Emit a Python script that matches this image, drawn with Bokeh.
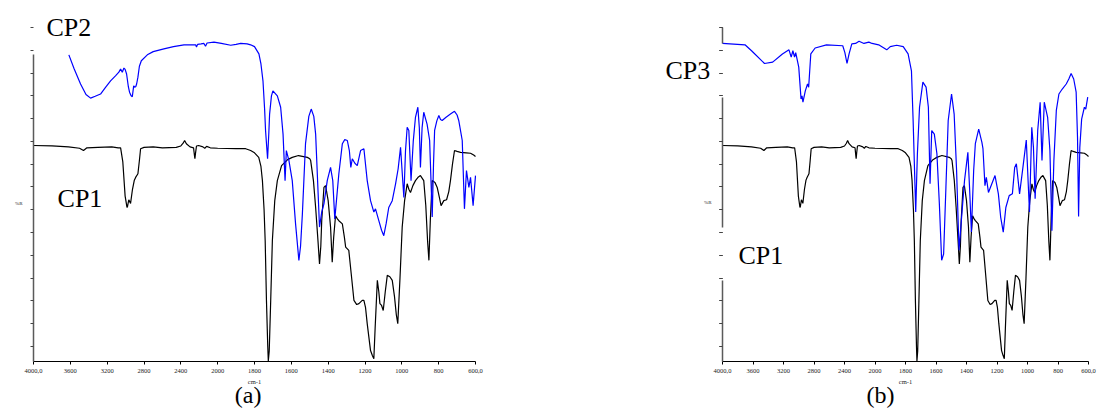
import numpy as np
from bokeh.plotting import figure
from bokeh.models import Range1d, FixedTicker, Label, LinearAxis
from bokeh.layouts import row
from bokeh.embed import file_html
from bokeh.resources import INLINE

# ---------------- data (wavenumber cm-1, %R) ----------------
cp1_wn = [4000, 3800, 3620, 3500, 3457, 3420, 3300, 3150, 3080, 3054, 3030, 3005, 2985, 2981,
          2965, 2946, 2925, 2905, 2891, 2866, 2850, 2837, 2800, 2700, 2600, 2450, 2400, 2375,
          2359, 2340, 2300, 2262, 2250, 2247, 2240, 2230, 2207, 2160, 2140, 2120, 2080, 2000,
          1900, 1848, 1821, 1800, 1777, 1765, 1757, 1748, 1742, 1735, 1728, 1725, 1720, 1712,
          1703, 1690, 1676, 1653, 1620, 1595, 1561, 1513, 1500, 1495, 1480, 1468, 1455, 1447,
          1440, 1435, 1423, 1414, 1400, 1387, 1378, 1370, 1360, 1350, 1342, 1323, 1312, 1305,
          1288, 1275, 1260, 1245, 1233, 1215, 1206, 1197, 1188, 1170, 1160, 1152, 1145, 1133,
          1125, 1119, 1110, 1101, 1090, 1079, 1065, 1052, 1040, 1030, 1022, 1010, 998, 985,
          971, 962, 953, 940, 926, 910, 899, 881, 870, 860, 853, 845, 835, 820, 808, 795, 787,
          772, 757, 745, 736, 725, 714, 700, 681, 650, 627, 610, 600]
cp1_r = [44.1, 44.0, 43.8, 43.5, 43.0, 43.6, 43.7, 43.8, 43.6, 43.6, 40.5, 33.0, 30.6, 30.5,
         32.2, 31.4, 34.5, 36.5, 37.1, 37.9, 40.8, 43.4, 43.7, 43.8, 43.6, 43.7, 44.0, 44.6,
         45.2, 44.5, 43.8, 43.6, 41.6, 41.2, 42.5, 44.0, 44.1, 43.8, 43.5, 43.9, 43.6, 43.5,
         43.4, 43.4, 43.0, 42.5, 41.5, 39.5, 36.4, 30.0, 23.2, 10.0, 0.0, -3.2, -1.0, 10.1,
         23.2, 32.0, 36.4, 39.7, 41.0, 41.5, 41.9, 41.5, 41.2, 40.8, 36.4, 30.5, 23.0, 18.1,
         22.0, 27.6, 34.9, 35.3, 32.0, 26.2, 18.5, 24.0, 28.7, 28.0, 27.6, 26.9, 24.0, 21.8,
         21.1, 16.0, 10.1, 9.2, 9.4, 10.1, 10.1, 8.5, 5.0, -0.9, -2.0, -2.7, 4.0, 14.5,
         12.0, 9.4, 9.0, 7.9, 12.0, 15.6, 15.3, 14.5, 11.0, 7.0, 5.0, 15.0, 26.2, 32.0,
         35.7, 34.5, 33.8, 35.3, 36.4, 37.2, 37.5, 36.4, 31.0, 23.0, 18.9, 28.0, 36.4, 36.0,
         34.9, 32.5, 30.9, 32.0, 32.2, 34.0, 36.4, 40.0, 43.0, 42.8, 42.6, 42.5, 42.4, 42.0,
         41.7]

cp2_wn = [3616, 3560, 3489, 3430, 3380, 3330, 3272, 3220, 3163, 3110, 3073, 3054, 3036, 3018,
          3005, 2989, 2970, 2957, 2940, 2927, 2912, 2902, 2890, 2880, 2866, 2850, 2829, 2764,
          2700, 2584, 2480, 2366, 2239, 2230, 2218, 2180, 2149, 2132, 2115, 2040, 1980, 1929,
          1900, 1875, 1840, 1821, 1800, 1776, 1765, 1754, 1745, 1740, 1729, 1722, 1718, 1708,
          1700, 1676, 1658, 1645, 1634, 1627, 1613, 1595, 1577, 1559, 1550, 1540, 1523, 1505,
          1492, 1478, 1468, 1459, 1447, 1435, 1423, 1405, 1387, 1375, 1364, 1355, 1342, 1323,
          1310, 1296, 1285, 1277, 1269, 1255, 1242, 1224, 1206, 1188, 1170, 1152, 1143, 1125,
          1110, 1098, 1085, 1071, 1052, 1034, 1020, 1007, 989, 980, 971, 962, 950, 938, 926,
          913, 905, 899, 890, 881, 863, 849, 835, 828, 822, 810, 799, 790, 781, 760, 736, 714,
          700, 691, 672, 660, 649, 636, 627, 613, 600]
cp2_r = [64.0, 61.0, 57.6, 55.3, 54.5, 54.9, 55.4, 56.8, 58.3, 59.4, 60.2, 60.9, 60.2, 61.1,
         60.8, 59.8, 57.0, 55.8, 55.0, 54.8, 57.2, 56.9, 57.0, 57.6, 59.1, 61.5, 62.7, 64.0,
         64.7, 65.3, 65.8, 66.2, 66.2, 65.7, 66.3, 66.4, 66.5, 65.9, 66.6, 66.8, 66.5, 66.1,
         66.3, 66.5, 66.4, 66.2, 65.8, 64.2, 62.0, 58.3, 52.0, 47.4, 41.2, 47.0, 51.0, 55.0,
         56.1, 55.0, 52.5, 46.6, 36.4, 43.0, 40.8, 36.4, 26.9, 18.9, 22.0, 29.1, 44.5, 50.5,
         52.1, 50.5, 46.6, 37.9, 26.2, 29.5, 31.3, 36.4, 39.3, 36.4, 28.0, 32.0, 37.9, 44.5,
         45.4, 45.2, 43.0, 39.3, 41.2, 40.2, 39.7, 43.0, 43.4, 36.4, 32.0, 29.5, 30.2, 27.6,
         25.5, 24.3, 27.0, 30.5, 32.0, 35.7, 39.0, 43.7, 32.7, 43.0, 48.1, 47.4, 36.4, 45.0, 50.3,
         52.5, 48.0, 39.3, 48.0, 51.4, 48.8, 45.2, 28.4, 40.0, 47.4, 49.5, 50.7, 49.8, 49.6, 50.3, 51.0, 51.6,
         50.8, 49.6, 45.2, 30.2, 38.6, 34.9, 37.1, 30.9, 37.5]

cp3_wn = [4000, 3705, 3619, 3449, 3342, 3214, 3128, 3099, 3077, 3055, 3040, 3000, 2970, 2957,
          2945, 2914, 2885, 2870, 2842, 2785, 2636, 2423, 2395, 2367, 2340, 2304, 2255, 2209,
          2145, 2081, 2038, 1976, 1923, 1900, 1858, 1815, 1783, 1761, 1750, 1733, 1722, 1708,
          1686, 1665, 1650, 1639, 1628, 1611, 1594, 1578, 1563, 1550, 1535, 1520, 1498, 1481,
          1465, 1449, 1434, 1413, 1391, 1380, 1368, 1353, 1342, 1320, 1299, 1292, 1279, 1270,
          1256, 1213, 1191, 1176, 1159, 1142, 1120, 1099, 1084, 1073, 1052, 1030, 1008, 987,
          972, 961, 950, 933, 917, 905, 890, 868, 853, 840, 827, 811, 794, 772, 746, 729, 714,
          697, 681, 672, 665, 657, 645, 627, 618, 605]
cp3_r = [66.5, 66.2, 64.9, 62.1, 62.4, 64.2, 65.1, 63.5, 64.9, 63.5, 64.5, 61.3, 54.3, 55.0,
         53.6, 56.1, 57.6, 56.9, 64.2, 65.5, 66.2, 66.0, 64.5, 62.1, 64.2, 66.4, 66.5, 67.0,
         66.5, 66.8, 66.5, 66.2, 65.1, 65.8, 66.1, 65.8, 64.2, 60.5, 49.6, 29.5, 42.3, 52.5,
         58.0, 56.9, 52.5, 35.7, 47.4, 46.6, 42.3, 31.3, 18.9, 20.3, 34.9, 49.6, 55.4, 51.0,
         38.6, 21.1, 27.6, 36.4, 42.6, 34.9, 25.1, 38.6, 44.5, 47.7, 44.8, 43.4, 35.3, 37.1,
         33.8, 37.5, 33.5, 28.4, 25.1, 30.5, 33.1, 33.5, 39.3, 40.1, 33.5, 39.3, 45.3, 29.5,
         48.1, 43.7, 32.4, 47.4, 53.6, 40.8, 53.6, 50.3, 43.0, 25.4, 40.8, 51.8, 55.4, 56.5,
         57.6, 58.7, 59.9, 58.7, 55.8, 45.9, 28.5, 43.7, 49.9, 52.5, 52.1, 54.7]

tick_wn = [4000, 3600, 3200, 2800, 2400, 2000, 1800, 1600, 1400, 1200, 1000, 800, 600]
tick_labels = ["4000,0", "3600", "3200", "2800", "2400", "2000", "1800", "1600",
               "1400", "1200", "1000", "800", "600,0"]
r_ticks = list(range(0, 75, 5))

FONT = "Liberation Serif"
R_MIN, R_MAX = -3.3, 70.0          # %R spanned by the plotting region
U_LEFT, U_RIGHT = 3000.0, 600.0     # axis positions of 4000 and 600 cm-1
HEIGHT = 410
TOP, BOTTOM = 27, 49                # pixels above / below the plotting region
PX_PER_R = (HEIGHT - TOP - BOTTOM) / (R_MAX - R_MIN)


def axis_pos(wn):
    """Spectrometer axis: 4000-2000 cm-1 drawn at half the scale of 2000-600 cm-1."""
    wn = np.asarray(wn, dtype=float)
    return np.where(wn > 2000, 2000 + (wn - 2000) / 2.0, wn)


def make_panel(width, left, right, y_segments, pct_r_center):
    """Figure whose frame fills the canvas; axes are pinned at the spectrum's edges."""
    px_per_u = (width - left - right) / (U_LEFT - U_RIGHT)
    x_range = Range1d(U_LEFT + left / px_per_u, U_RIGHT - right / px_per_u)
    y_range = Range1d(R_MIN - BOTTOM / PX_PER_R, R_MAX + TOP / PX_PER_R)
    p = figure(width=width, height=HEIGHT, output_backend="svg", toolbar_location=None,
               tools="", x_range=x_range, y_range=y_range,
               x_axis_location=None, y_axis_location=None,
               min_border_left=0, min_border_right=0, min_border_top=0, min_border_bottom=0)
    p.outline_line_color = None
    p.xgrid.visible = False
    p.ygrid.visible = False
    p.background_fill_color = "white"
    p.border_fill_color = "white"

    ticks = [int(v) for v in axis_pos(tick_wn)]
    xa = LinearAxis(fixed_location=R_MIN, bounds=(U_RIGHT, U_LEFT),
                    ticker=FixedTicker(ticks=ticks))
    xa.major_label_overrides = {t: lab for t, lab in zip(ticks, tick_labels)}
    xa.axis_line_color = "black"
    xa.axis_line_width = 1
    xa.major_tick_line_color = "black"
    xa.major_tick_out = 3
    xa.major_tick_in = 0
    xa.minor_tick_out = 0
    xa.minor_tick_in = 0
    xa.major_label_text_font = FONT
    xa.major_label_text_font_size = "6.5px"
    xa.major_label_text_color = "#222222"
    xa.major_label_standoff = 4
    xa.axis_label = "cm-1"
    xa.axis_label_text_font = FONT
    xa.axis_label_text_font_size = "6.5px"
    xa.axis_label_text_font_style = "normal"
    xa.axis_label_text_color = "#222222"
    xa.axis_label_standoff = 2
    p.add_layout(xa, "below")

    # y axis line (interrupted where the curve labels sit)
    for lo, hi in y_segments:
        ya = LinearAxis(fixed_location=U_LEFT, bounds=(lo, hi),
                        ticker=FixedTicker(ticks=r_ticks))
        ya.axis_line_color = "#5a5a5a"
        ya.axis_line_width = 1.5
        ya.major_tick_line_color = "#444444"
        ya.major_tick_out = 3
        ya.major_tick_in = 0
        ya.minor_tick_out = 0
        ya.minor_tick_in = 0
        ya.major_label_text_font_size = "1px"
        ya.major_label_text_color = None
        ya.major_label_standoff = 0
        p.add_layout(ya, "left")

    # "%R" axis title
    yl = LinearAxis(fixed_location=U_LEFT, bounds=(pct_r_center - 2, pct_r_center + 2),
                    ticker=FixedTicker(ticks=[]))
    yl.axis_line_color = None
    yl.major_tick_line_color = None
    yl.major_tick_out = 0
    yl.major_tick_in = 0
    yl.minor_tick_out = 0
    yl.minor_tick_in = 0
    yl.major_label_text_font_size = "1px"
    yl.major_label_text_color = None
    yl.major_label_standoff = 0
    yl.axis_label = "%R"
    yl.axis_label_orientation = "horizontal"
    yl.axis_label_text_font = FONT
    yl.axis_label_text_font_size = "5px"
    yl.axis_label_text_font_style = "normal"
    yl.axis_label_text_color = "#222222"
    yl.axis_label_standoff = 11
    p.add_layout(yl, "left")
    return p


def add_text(p, text, wn, r, size, align="left", baseline="alphabetic"):
    p.add_layout(Label(x=float(axis_pos(wn)), y=r, text=text, text_font=FONT,
                       text_font_size=f"{size}px", text_align=align,
                       text_baseline=baseline, text_color="black"))


# ---------------- panel (a) ----------------
pa = make_panel(568, 33, 93, [(R_MIN, 64.0)], 31.4)
pa.line(axis_pos(cp1_wn), cp1_r, line_color="black", line_width=1.2)
pa.line(axis_pos(cp2_wn), cp2_r, line_color="#0000ff", line_width=1.2)
add_text(pa, "CP2", 3859, 70.1, 26)
add_text(pa, "CP1", 3739, 32.5, 26)
add_text(pa, "(a)", 1835, -10.6, 24, align="center")

# ---------------- panel (b) ----------------
pb = make_panel(530, 154, 10, [(66.49, R_MAX), (26.11, 54.64), (R_MIN, 14.48)], 31.6)
pb.line(axis_pos(cp1_wn), cp1_r, line_color="black", line_width=1.2)
pb.line(axis_pos(cp3_wn), cp3_r, line_color="#0000ff", line_width=1.2)
add_text(pb, "CP3", 4748, 60.6, 26)
add_text(pb, "CP1", 3790, 20.0, 26)
add_text(pb, "(b)", 1964, -10.6, 24, align="center")

layout = row(pa, pb)
open("out.html", "w").write(file_html(layout, INLINE))
